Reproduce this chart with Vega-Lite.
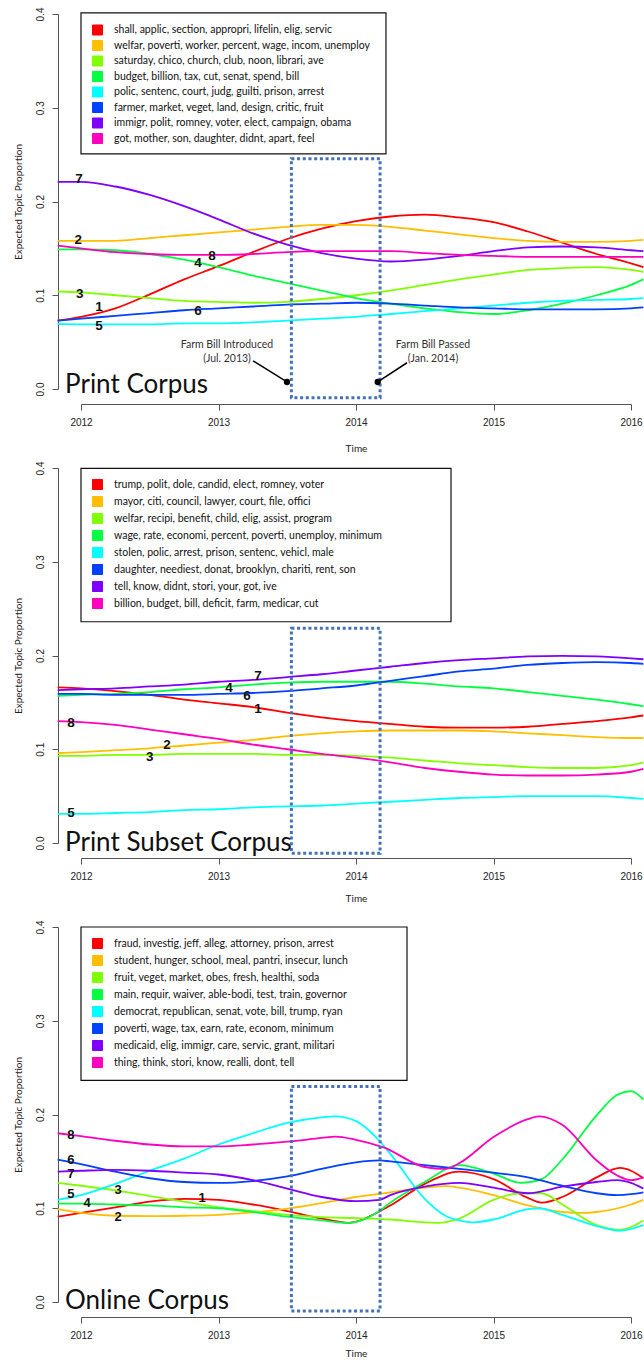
{
  "$schema": "https://vega.github.io/schema/vega-lite/v6.json",
  "background": "white",
  "padding": {"left": 13, "top": 7, "right": 0, "bottom": 0},
  "datasets": {
    "l1": [
      {"topic":1,"year":2011.83,"prop":0.073},{"topic":1,"year":2012,"prop":0.077},{"topic":1,"year":2012.25,"prop":0.086},{"topic":1,"year":2012.5,"prop":0.101},{"topic":1,"year":2012.75,"prop":0.117},{"topic":1,"year":2013,"prop":0.131},{"topic":1,"year":2013.25,"prop":0.146},{"topic":1,"year":2013.5,"prop":0.160},{"topic":1,"year":2013.75,"prop":0.171},{"topic":1,"year":2014,"prop":0.179},{"topic":1,"year":2014.25,"prop":0.184},{"topic":1,"year":2014.5,"prop":0.186},{"topic":1,"year":2014.75,"prop":0.183},{"topic":1,"year":2015,"prop":0.178},{"topic":1,"year":2015.25,"prop":0.168},{"topic":1,"year":2015.5,"prop":0.156},{"topic":1,"year":2015.75,"prop":0.144},{"topic":1,"year":2016,"prop":0.134},{"topic":1,"year":2016.09,"prop":0.130},
      {"topic":2,"year":2011.83,"prop":0.158},{"topic":2,"year":2012,"prop":0.158},{"topic":2,"year":2012.25,"prop":0.158},{"topic":2,"year":2012.5,"prop":0.161},{"topic":2,"year":2012.75,"prop":0.164},{"topic":2,"year":2013,"prop":0.167},{"topic":2,"year":2013.25,"prop":0.170},{"topic":2,"year":2013.5,"prop":0.173},{"topic":2,"year":2013.75,"prop":0.175},{"topic":2,"year":2014,"prop":0.175},{"topic":2,"year":2014.25,"prop":0.173},{"topic":2,"year":2014.5,"prop":0.169},{"topic":2,"year":2014.75,"prop":0.165},{"topic":2,"year":2015,"prop":0.161},{"topic":2,"year":2015.25,"prop":0.158},{"topic":2,"year":2015.5,"prop":0.157},{"topic":2,"year":2015.75,"prop":0.157},{"topic":2,"year":2016,"prop":0.158},{"topic":2,"year":2016.09,"prop":0.159},
      {"topic":3,"year":2011.83,"prop":0.104},{"topic":3,"year":2012,"prop":0.103},{"topic":3,"year":2012.25,"prop":0.100},{"topic":3,"year":2012.5,"prop":0.097},{"topic":3,"year":2012.75,"prop":0.094},{"topic":3,"year":2013,"prop":0.093},{"topic":3,"year":2013.25,"prop":0.092},{"topic":3,"year":2013.5,"prop":0.093},{"topic":3,"year":2013.75,"prop":0.096},{"topic":3,"year":2014,"prop":0.100},{"topic":3,"year":2014.25,"prop":0.105},{"topic":3,"year":2014.5,"prop":0.111},{"topic":3,"year":2014.75,"prop":0.117},{"topic":3,"year":2015,"prop":0.122},{"topic":3,"year":2015.25,"prop":0.127},{"topic":3,"year":2015.5,"prop":0.129},{"topic":3,"year":2015.75,"prop":0.130},{"topic":3,"year":2016,"prop":0.127},{"topic":3,"year":2016.09,"prop":0.125},
      {"topic":4,"year":2011.83,"prop":0.149},{"topic":4,"year":2012,"prop":0.149},{"topic":4,"year":2012.25,"prop":0.148},{"topic":4,"year":2012.5,"prop":0.144},{"topic":4,"year":2012.75,"prop":0.138},{"topic":4,"year":2013,"prop":0.130},{"topic":4,"year":2013.25,"prop":0.121},{"topic":4,"year":2013.5,"prop":0.113},{"topic":4,"year":2013.75,"prop":0.105},{"topic":4,"year":2014,"prop":0.097},{"topic":4,"year":2014.25,"prop":0.091},{"topic":4,"year":2014.5,"prop":0.086},{"topic":4,"year":2014.75,"prop":0.082},{"topic":4,"year":2015,"prop":0.080},{"topic":4,"year":2015.25,"prop":0.084},{"topic":4,"year":2015.5,"prop":0.091},{"topic":4,"year":2015.75,"prop":0.100},{"topic":4,"year":2016,"prop":0.111},{"topic":4,"year":2016.09,"prop":0.117},
      {"topic":5,"year":2011.83,"prop":0.0695},{"topic":5,"year":2012,"prop":0.069},{"topic":5,"year":2012.25,"prop":0.069},{"topic":5,"year":2012.5,"prop":0.069},{"topic":5,"year":2012.75,"prop":0.070},{"topic":5,"year":2013,"prop":0.070},{"topic":5,"year":2013.25,"prop":0.071},{"topic":5,"year":2013.5,"prop":0.073},{"topic":5,"year":2013.75,"prop":0.075},{"topic":5,"year":2014,"prop":0.077},{"topic":5,"year":2014.25,"prop":0.080},{"topic":5,"year":2014.5,"prop":0.083},{"topic":5,"year":2014.75,"prop":0.086},{"topic":5,"year":2015,"prop":0.089},{"topic":5,"year":2015.25,"prop":0.092},{"topic":5,"year":2015.5,"prop":0.094},{"topic":5,"year":2015.75,"prop":0.095},{"topic":5,"year":2016,"prop":0.096},{"topic":5,"year":2016.09,"prop":0.097},
      {"topic":6,"year":2011.83,"prop":0.073},{"topic":6,"year":2012,"prop":0.075},{"topic":6,"year":2012.25,"prop":0.078},{"topic":6,"year":2012.5,"prop":0.081},{"topic":6,"year":2012.75,"prop":0.084},{"topic":6,"year":2013,"prop":0.086},{"topic":6,"year":2013.25,"prop":0.088},{"topic":6,"year":2013.5,"prop":0.090},{"topic":6,"year":2013.75,"prop":0.091},{"topic":6,"year":2014,"prop":0.092},{"topic":6,"year":2014.25,"prop":0.091},{"topic":6,"year":2014.5,"prop":0.089},{"topic":6,"year":2014.75,"prop":0.087},{"topic":6,"year":2015,"prop":0.086},{"topic":6,"year":2015.25,"prop":0.085},{"topic":6,"year":2015.5,"prop":0.085},{"topic":6,"year":2015.75,"prop":0.085},{"topic":6,"year":2016,"prop":0.086},{"topic":6,"year":2016.09,"prop":0.087},
      {"topic":7,"year":2011.83,"prop":0.221},{"topic":7,"year":2012,"prop":0.221},{"topic":7,"year":2012.25,"prop":0.216},{"topic":7,"year":2012.5,"prop":0.207},{"topic":7,"year":2012.75,"prop":0.195},{"topic":7,"year":2013,"prop":0.181},{"topic":7,"year":2013.25,"prop":0.166},{"topic":7,"year":2013.5,"prop":0.154},{"topic":7,"year":2013.75,"prop":0.145},{"topic":7,"year":2014,"prop":0.139},{"topic":7,"year":2014.25,"prop":0.136},{"topic":7,"year":2014.5,"prop":0.138},{"topic":7,"year":2014.75,"prop":0.142},{"topic":7,"year":2015,"prop":0.147},{"topic":7,"year":2015.25,"prop":0.151},{"topic":7,"year":2015.5,"prop":0.152},{"topic":7,"year":2015.75,"prop":0.151},{"topic":7,"year":2016,"prop":0.148},{"topic":7,"year":2016.09,"prop":0.147},
      {"topic":8,"year":2011.83,"prop":0.153},{"topic":8,"year":2012,"prop":0.150},{"topic":8,"year":2012.25,"prop":0.146},{"topic":8,"year":2012.5,"prop":0.144},{"topic":8,"year":2012.75,"prop":0.143},{"topic":8,"year":2013,"prop":0.143},{"topic":8,"year":2013.25,"prop":0.144},{"topic":8,"year":2013.5,"prop":0.146},{"topic":8,"year":2013.75,"prop":0.147},{"topic":8,"year":2014,"prop":0.147},{"topic":8,"year":2014.25,"prop":0.147},{"topic":8,"year":2014.5,"prop":0.145},{"topic":8,"year":2014.75,"prop":0.143},{"topic":8,"year":2015,"prop":0.142},{"topic":8,"year":2015.25,"prop":0.141},{"topic":8,"year":2015.5,"prop":0.141},{"topic":8,"year":2015.75,"prop":0.141},{"topic":8,"year":2016,"prop":0.141},{"topic":8,"year":2016.09,"prop":0.141}
    ],
    "l2": [
      {"topic":1,"year":2011.83,"prop":0.166},{"topic":1,"year":2012,"prop":0.165},{"topic":1,"year":2012.25,"prop":0.162},{"topic":1,"year":2012.5,"prop":0.158},{"topic":1,"year":2012.75,"prop":0.153},{"topic":1,"year":2013,"prop":0.149},{"topic":1,"year":2013.25,"prop":0.145},{"topic":1,"year":2013.5,"prop":0.139},{"topic":1,"year":2013.75,"prop":0.134},{"topic":1,"year":2014,"prop":0.130},{"topic":1,"year":2014.25,"prop":0.127},{"topic":1,"year":2014.5,"prop":0.124},{"topic":1,"year":2014.75,"prop":0.123},{"topic":1,"year":2015,"prop":0.123},{"topic":1,"year":2015.25,"prop":0.124},{"topic":1,"year":2015.5,"prop":0.127},{"topic":1,"year":2015.75,"prop":0.130},{"topic":1,"year":2016,"prop":0.134},{"topic":1,"year":2016.09,"prop":0.136},
      {"topic":2,"year":2011.83,"prop":0.096},{"topic":2,"year":2012,"prop":0.097},{"topic":2,"year":2012.25,"prop":0.099},{"topic":2,"year":2012.5,"prop":0.101},{"topic":2,"year":2012.75,"prop":0.104},{"topic":2,"year":2013,"prop":0.107},{"topic":2,"year":2013.25,"prop":0.110},{"topic":2,"year":2013.5,"prop":0.114},{"topic":2,"year":2013.75,"prop":0.117},{"topic":2,"year":2014,"prop":0.119},{"topic":2,"year":2014.25,"prop":0.120},{"topic":2,"year":2014.5,"prop":0.120},{"topic":2,"year":2014.75,"prop":0.120},{"topic":2,"year":2015,"prop":0.119},{"topic":2,"year":2015.25,"prop":0.117},{"topic":2,"year":2015.5,"prop":0.115},{"topic":2,"year":2015.75,"prop":0.113},{"topic":2,"year":2016,"prop":0.112},{"topic":2,"year":2016.09,"prop":0.112},
      {"topic":3,"year":2011.83,"prop":0.093},{"topic":3,"year":2012,"prop":0.093},{"topic":3,"year":2012.25,"prop":0.094},{"topic":3,"year":2012.5,"prop":0.094},{"topic":3,"year":2012.75,"prop":0.095},{"topic":3,"year":2013,"prop":0.095},{"topic":3,"year":2013.25,"prop":0.095},{"topic":3,"year":2013.5,"prop":0.094},{"topic":3,"year":2013.75,"prop":0.094},{"topic":3,"year":2014,"prop":0.093},{"topic":3,"year":2014.25,"prop":0.091},{"topic":3,"year":2014.5,"prop":0.088},{"topic":3,"year":2014.75,"prop":0.085},{"topic":3,"year":2015,"prop":0.083},{"topic":3,"year":2015.25,"prop":0.081},{"topic":3,"year":2015.5,"prop":0.080},{"topic":3,"year":2015.75,"prop":0.080},{"topic":3,"year":2016,"prop":0.083},{"topic":3,"year":2016.09,"prop":0.086},
      {"topic":4,"year":2011.83,"prop":0.157},{"topic":4,"year":2012,"prop":0.158},{"topic":4,"year":2012.25,"prop":0.159},{"topic":4,"year":2012.5,"prop":0.161},{"topic":4,"year":2012.75,"prop":0.164},{"topic":4,"year":2013,"prop":0.166},{"topic":4,"year":2013.25,"prop":0.169},{"topic":4,"year":2013.5,"prop":0.171},{"topic":4,"year":2013.75,"prop":0.172},{"topic":4,"year":2014,"prop":0.172},{"topic":4,"year":2014.25,"prop":0.172},{"topic":4,"year":2014.5,"prop":0.170},{"topic":4,"year":2014.75,"prop":0.167},{"topic":4,"year":2015,"prop":0.165},{"topic":4,"year":2015.25,"prop":0.161},{"topic":4,"year":2015.5,"prop":0.157},{"topic":4,"year":2015.75,"prop":0.153},{"topic":4,"year":2016,"prop":0.148},{"topic":4,"year":2016.09,"prop":0.146},
      {"topic":5,"year":2011.83,"prop":0.031},{"topic":5,"year":2012,"prop":0.031},{"topic":5,"year":2012.25,"prop":0.032},{"topic":5,"year":2012.5,"prop":0.033},{"topic":5,"year":2012.75,"prop":0.035},{"topic":5,"year":2013,"prop":0.036},{"topic":5,"year":2013.25,"prop":0.038},{"topic":5,"year":2013.5,"prop":0.039},{"topic":5,"year":2013.75,"prop":0.040},{"topic":5,"year":2014,"prop":0.042},{"topic":5,"year":2014.25,"prop":0.044},{"topic":5,"year":2014.5,"prop":0.046},{"topic":5,"year":2014.75,"prop":0.048},{"topic":5,"year":2015,"prop":0.049},{"topic":5,"year":2015.25,"prop":0.050},{"topic":5,"year":2015.5,"prop":0.050},{"topic":5,"year":2015.75,"prop":0.050},{"topic":5,"year":2016,"prop":0.048},{"topic":5,"year":2016.09,"prop":0.047},
      {"topic":6,"year":2011.83,"prop":0.159},{"topic":6,"year":2012,"prop":0.159},{"topic":6,"year":2012.25,"prop":0.158},{"topic":6,"year":2012.5,"prop":0.158},{"topic":6,"year":2012.75,"prop":0.158},{"topic":6,"year":2013,"prop":0.159},{"topic":6,"year":2013.25,"prop":0.160},{"topic":6,"year":2013.5,"prop":0.162},{"topic":6,"year":2013.75,"prop":0.165},{"topic":6,"year":2014,"prop":0.168},{"topic":6,"year":2014.25,"prop":0.173},{"topic":6,"year":2014.5,"prop":0.178},{"topic":6,"year":2014.75,"prop":0.183},{"topic":6,"year":2015,"prop":0.186},{"topic":6,"year":2015.25,"prop":0.190},{"topic":6,"year":2015.5,"prop":0.192},{"topic":6,"year":2015.75,"prop":0.193},{"topic":6,"year":2016,"prop":0.192},{"topic":6,"year":2016.09,"prop":0.191},
      {"topic":7,"year":2011.83,"prop":0.163},{"topic":7,"year":2012,"prop":0.164},{"topic":7,"year":2012.25,"prop":0.165},{"topic":7,"year":2012.5,"prop":0.167},{"topic":7,"year":2012.75,"prop":0.169},{"topic":7,"year":2013,"prop":0.172},{"topic":7,"year":2013.25,"prop":0.174},{"topic":7,"year":2013.5,"prop":0.177},{"topic":7,"year":2013.75,"prop":0.180},{"topic":7,"year":2014,"prop":0.184},{"topic":7,"year":2014.25,"prop":0.188},{"topic":7,"year":2014.5,"prop":0.192},{"topic":7,"year":2014.75,"prop":0.195},{"topic":7,"year":2015,"prop":0.197},{"topic":7,"year":2015.25,"prop":0.199},{"topic":7,"year":2015.5,"prop":0.1995},{"topic":7,"year":2015.75,"prop":0.199},{"topic":7,"year":2016,"prop":0.197},{"topic":7,"year":2016.09,"prop":0.196},
      {"topic":8,"year":2011.83,"prop":0.130},{"topic":8,"year":2012,"prop":0.129},{"topic":8,"year":2012.25,"prop":0.126},{"topic":8,"year":2012.5,"prop":0.121},{"topic":8,"year":2012.75,"prop":0.116},{"topic":8,"year":2013,"prop":0.111},{"topic":8,"year":2013.25,"prop":0.105},{"topic":8,"year":2013.5,"prop":0.100},{"topic":8,"year":2013.75,"prop":0.095},{"topic":8,"year":2014,"prop":0.091},{"topic":8,"year":2014.25,"prop":0.086},{"topic":8,"year":2014.5,"prop":0.080},{"topic":8,"year":2014.75,"prop":0.076},{"topic":8,"year":2015,"prop":0.073},{"topic":8,"year":2015.25,"prop":0.072},{"topic":8,"year":2015.5,"prop":0.072},{"topic":8,"year":2015.75,"prop":0.073},{"topic":8,"year":2016,"prop":0.076},{"topic":8,"year":2016.09,"prop":0.079}
    ],
    "l3": [
      {"topic":1,"year":2011.83,"prop":0.091},{"topic":1,"year":2012,"prop":0.095},{"topic":1,"year":2012.25,"prop":0.101},{"topic":1,"year":2012.5,"prop":0.107},{"topic":1,"year":2012.75,"prop":0.110},{"topic":1,"year":2013,"prop":0.109},{"topic":1,"year":2013.25,"prop":0.104},{"topic":1,"year":2013.5,"prop":0.097},{"topic":1,"year":2013.75,"prop":0.089},{"topic":1,"year":2013.95,"prop":0.0845},{"topic":1,"year":2014.17,"prop":0.0965},{"topic":1,"year":2014.25,"prop":0.103},{"topic":1,"year":2014.5,"prop":0.126},{"topic":1,"year":2014.75,"prop":0.139},{"topic":1,"year":2015,"prop":0.131},{"topic":1,"year":2015.25,"prop":0.111},{"topic":1,"year":2015.35,"prop":0.106},{"topic":1,"year":2015.5,"prop":0.112},{"topic":1,"year":2015.75,"prop":0.133},{"topic":1,"year":2015.92,"prop":0.143},{"topic":1,"year":2016,"prop":0.140},{"topic":1,"year":2016.09,"prop":0.132},
      {"topic":2,"year":2011.83,"prop":0.099},{"topic":2,"year":2012,"prop":0.095},{"topic":2,"year":2012.25,"prop":0.092},{"topic":2,"year":2012.5,"prop":0.0915},{"topic":2,"year":2012.75,"prop":0.092},{"topic":2,"year":2013,"prop":0.093},{"topic":2,"year":2013.25,"prop":0.0955},{"topic":2,"year":2013.5,"prop":0.0995},{"topic":2,"year":2013.75,"prop":0.1055},{"topic":2,"year":2014,"prop":0.112},{"topic":2,"year":2014.25,"prop":0.117},{"topic":2,"year":2014.5,"prop":0.122},{"topic":2,"year":2014.65,"prop":0.1235},{"topic":2,"year":2014.75,"prop":0.122},{"topic":2,"year":2015,"prop":0.114},{"topic":2,"year":2015.25,"prop":0.103},{"topic":2,"year":2015.5,"prop":0.096},{"topic":2,"year":2015.65,"prop":0.095},{"topic":2,"year":2015.75,"prop":0.096},{"topic":2,"year":2016,"prop":0.104},{"topic":2,"year":2016.09,"prop":0.109},
      {"topic":3,"year":2011.83,"prop":0.127},{"topic":3,"year":2012,"prop":0.124},{"topic":3,"year":2012.25,"prop":0.119},{"topic":3,"year":2012.5,"prop":0.113},{"topic":3,"year":2012.75,"prop":0.107},{"topic":3,"year":2013,"prop":0.101},{"topic":3,"year":2013.25,"prop":0.097},{"topic":3,"year":2013.5,"prop":0.093},{"topic":3,"year":2013.75,"prop":0.0905},{"topic":3,"year":2014,"prop":0.0895},{"topic":3,"year":2014.25,"prop":0.088},{"topic":3,"year":2014.5,"prop":0.085},{"topic":3,"year":2014.6,"prop":0.0845},{"topic":3,"year":2014.75,"prop":0.089},{"topic":3,"year":2015,"prop":0.109},{"topic":3,"year":2015.2,"prop":0.116},{"topic":3,"year":2015.35,"prop":0.116},{"topic":3,"year":2015.5,"prop":0.104},{"topic":3,"year":2015.75,"prop":0.082},{"topic":3,"year":2015.92,"prop":0.077},{"topic":3,"year":2016,"prop":0.080},{"topic":3,"year":2016.09,"prop":0.087},
      {"topic":4,"year":2011.83,"prop":0.105},{"topic":4,"year":2012,"prop":0.105},{"topic":4,"year":2012.25,"prop":0.104},{"topic":4,"year":2012.5,"prop":0.103},{"topic":4,"year":2012.75,"prop":0.101},{"topic":4,"year":2013,"prop":0.100},{"topic":4,"year":2013.25,"prop":0.096},{"topic":4,"year":2013.5,"prop":0.091},{"topic":4,"year":2013.75,"prop":0.087},{"topic":4,"year":2013.95,"prop":0.0845},{"topic":4,"year":2014.17,"prop":0.097},{"topic":4,"year":2014.25,"prop":0.106},{"topic":4,"year":2014.5,"prop":0.128},{"topic":4,"year":2014.75,"prop":0.146},{"topic":4,"year":2015,"prop":0.137},{"topic":4,"year":2015.2,"prop":0.127},{"topic":4,"year":2015.35,"prop":0.131},{"topic":4,"year":2015.5,"prop":0.152},{"topic":4,"year":2015.75,"prop":0.199},{"topic":4,"year":2015.9,"prop":0.221},{"topic":4,"year":2016,"prop":0.225},{"topic":4,"year":2016.09,"prop":0.216},
      {"topic":5,"year":2011.83,"prop":0.109},{"topic":5,"year":2012,"prop":0.114},{"topic":5,"year":2012.25,"prop":0.126},{"topic":5,"year":2012.5,"prop":0.140},{"topic":5,"year":2012.75,"prop":0.153},{"topic":5,"year":2013,"prop":0.168},{"topic":5,"year":2013.25,"prop":0.180},{"topic":5,"year":2013.5,"prop":0.191},{"topic":5,"year":2013.75,"prop":0.197},{"topic":5,"year":2013.85,"prop":0.198},{"topic":5,"year":2014,"prop":0.193},{"topic":5,"year":2014.17,"prop":0.172},{"topic":5,"year":2014.25,"prop":0.158},{"topic":5,"year":2014.5,"prop":0.110},{"topic":5,"year":2014.65,"prop":0.092},{"topic":5,"year":2014.75,"prop":0.087},{"topic":5,"year":2014.85,"prop":0.085},{"topic":5,"year":2015,"prop":0.088},{"topic":5,"year":2015.25,"prop":0.099},{"topic":5,"year":2015.33,"prop":0.100},{"topic":5,"year":2015.5,"prop":0.093},{"topic":5,"year":2015.75,"prop":0.081},{"topic":5,"year":2015.92,"prop":0.076},{"topic":5,"year":2016,"prop":0.078},{"topic":5,"year":2016.09,"prop":0.082},
      {"topic":6,"year":2011.83,"prop":0.152},{"topic":6,"year":2012,"prop":0.147},{"topic":6,"year":2012.25,"prop":0.139},{"topic":6,"year":2012.5,"prop":0.132},{"topic":6,"year":2012.75,"prop":0.128},{"topic":6,"year":2013,"prop":0.127},{"topic":6,"year":2013.25,"prop":0.129},{"topic":6,"year":2013.5,"prop":0.134},{"topic":6,"year":2013.75,"prop":0.142},{"topic":6,"year":2014,"prop":0.149},{"topic":6,"year":2014.17,"prop":0.151},{"topic":6,"year":2014.25,"prop":0.150},{"topic":6,"year":2014.5,"prop":0.146},{"topic":6,"year":2014.75,"prop":0.142},{"topic":6,"year":2015,"prop":0.138},{"topic":6,"year":2015.25,"prop":0.133},{"topic":6,"year":2015.5,"prop":0.124},{"topic":6,"year":2015.75,"prop":0.116},{"topic":6,"year":2015.9,"prop":0.114},{"topic":6,"year":2016,"prop":0.115},{"topic":6,"year":2016.09,"prop":0.117},
      {"topic":7,"year":2011.83,"prop":0.139},{"topic":7,"year":2012,"prop":0.140},{"topic":7,"year":2012.25,"prop":0.141},{"topic":7,"year":2012.5,"prop":0.140},{"topic":7,"year":2012.75,"prop":0.138},{"topic":7,"year":2013,"prop":0.136},{"topic":7,"year":2013.25,"prop":0.130},{"topic":7,"year":2013.5,"prop":0.121},{"topic":7,"year":2013.75,"prop":0.112},{"topic":7,"year":2014,"prop":0.1075},{"topic":7,"year":2014.17,"prop":0.109},{"topic":7,"year":2014.25,"prop":0.114},{"topic":7,"year":2014.5,"prop":0.123},{"topic":7,"year":2014.75,"prop":0.127},{"topic":7,"year":2015,"prop":0.122},{"topic":7,"year":2015.25,"prop":0.116},{"topic":7,"year":2015.5,"prop":0.123},{"topic":7,"year":2015.75,"prop":0.128},{"topic":7,"year":2015.9,"prop":0.130},{"topic":7,"year":2016,"prop":0.127},{"topic":7,"year":2016.09,"prop":0.121},
      {"topic":8,"year":2011.83,"prop":0.180},{"topic":8,"year":2012,"prop":0.177},{"topic":8,"year":2012.25,"prop":0.172},{"topic":8,"year":2012.5,"prop":0.168},{"topic":8,"year":2012.75,"prop":0.166},{"topic":8,"year":2013,"prop":0.166},{"topic":8,"year":2013.25,"prop":0.168},{"topic":8,"year":2013.5,"prop":0.171},{"topic":8,"year":2013.75,"prop":0.175},{"topic":8,"year":2013.85,"prop":0.1765},{"topic":8,"year":2014,"prop":0.173},{"topic":8,"year":2014.2,"prop":0.165},{"topic":8,"year":2014.5,"prop":0.144},{"topic":8,"year":2014.65,"prop":0.142},{"topic":8,"year":2014.75,"prop":0.148},{"topic":8,"year":2015,"prop":0.176},{"topic":8,"year":2015.25,"prop":0.195},{"topic":8,"year":2015.33,"prop":0.198},{"topic":8,"year":2015.5,"prop":0.189},{"topic":8,"year":2015.75,"prop":0.151},{"topic":8,"year":2015.9,"prop":0.135},{"topic":8,"year":2016,"prop":0.130},{"topic":8,"year":2016.09,"prop":0.133}
    ],
    "n1": [{"topic":7,"year":2011.985,"prop":0.2235},{"topic":2,"year":2011.98,"prop":0.159},{"topic":8,"year":2012.953,"prop":0.142},{"topic":4,"year":2012.851,"prop":0.134},{"topic":3,"year":2011.99,"prop":0.1016},{"topic":1,"year":2012.131,"prop":0.087},{"topic":6,"year":2012.851,"prop":0.0827},{"topic":5,"year":2012.131,"prop":0.0677}],
    "n2": [{"topic":8,"year":2011.927,"prop":0.128},{"topic":2,"year":2012.625,"prop":0.1045},{"topic":3,"year":2012.5,"prop":0.092},{"topic":5,"year":2011.927,"prop":0.032},{"topic":4,"year":2013.076,"prop":0.1657},{"topic":6,"year":2013.207,"prop":0.157},{"topic":1,"year":2013.287,"prop":0.143},{"topic":7,"year":2013.287,"prop":0.178}],
    "n3": [{"topic":8,"year":2011.927,"prop":0.1777},{"topic":6,"year":2011.927,"prop":0.1515},{"topic":7,"year":2011.927,"prop":0.1368},{"topic":5,"year":2011.927,"prop":0.115},{"topic":4,"year":2012.044,"prop":0.1056},{"topic":3,"year":2012.27,"prop":0.119},{"topic":1,"year":2012.88,"prop":0.1106},{"topic":2,"year":2012.27,"prop":0.0907}]
  },
  "vconcat": [
    {
      "name": "p1",
      "width": 550,
      "height": 375,
      "layer": [
        {
          "data": {"values": [{"year": 2012, "year2": 2014.218, "prop": 0.4012, "prop2": 0.2507}]},
          "mark": {"type": "rect", "fill": "#ffffff", "stroke": "#111", "strokeWidth": 1.2, "clip": false},
          "encoding": {"x": {"field": "year", "type": "quantitative"}, "x2": {"field": "year2"}, "y": {"field": "prop", "type": "quantitative"}, "y2": {"field": "prop2"}}
        },
        {
          "data": {"name": "l1"},
          "mark": {"type": "line", "interpolate": "monotone", "strokeWidth": 1.8, "clip": false},
          "encoding": {
            "x": {"field": "year", "type": "quantitative", "scale": {"domain": [2012, 2016], "nice": false, "zero": false},
                  "axis": {"title": "Time", "values": [2012, 2013, 2014, 2015, 2016], "format": "d", "offset": 15, "tickSize": 6, "labelPadding": 7, "titlePadding": 16, "labelFlush": false, "labelOverlap": false}},
            "y": {"field": "prop", "type": "quantitative", "scale": {"domain": [0, 0.4], "nice": false, "zero": false},
                  "axis": {"title": "Expected Topic Proportion", "values": [0, 0.1, 0.2, 0.3, 0.4], "format": ".1f", "offset": 23, "tickSize": 6, "labelAngle": 270, "labelAlign": "center", "labelBaseline": "bottom", "labelPadding": 7, "titlePadding": 12}},
            "color": {"field": "topic", "type": "nominal",
                      "scale": {"domain": [1, 2, 3, 4, 5, 6, 7, 8], "range": ["#FF0000", "#FFBF00", "#80FF00", "#00FF40", "#00FFFF", "#0040FF", "#8000FF", "#FF00BF"]},
                      "legend": {"orient": "none", "legendX": 0, "legendY": -0.5, "title": null, "symbolType": "square", "symbolSize": 100, "padding": 11, "rowPadding": 0.5, "labelOffset": 11, "labelLimit": 600, "labelFont": "Lato", "labelFontSize": 10.5, "labelColor": "#111", "strokeColor": null, "fillColor": null,
                                 "labelExpr": "['shall, applic, section, appropri, lifelin, elig, servic','welfar, poverti, worker, percent, wage, incom, unemploy','saturday, chico, church, club, noon, librari, ave','budget, billion, tax, cut, senat, spend, bill','polic, sentenc, court, judg, guilti, prison, arrest','farmer, market, veget, land, design, critic, fruit','immigr, polit, romney, voter, elect, campaign, obama','got, mother, son, daughter, didnt, apart, feel'][datum.value - 1]",
                                 "encode": {"symbols": {"update": {"fill": {"scale": "p1_color", "field": "value"}, "stroke": {"value": "#000"}, "strokeWidth": {"value": 1}, "opacity": {"value": 1}}}}}}
          }
        },
        {
          "data": {"values": [{"year": 2013.53, "year2": 2014.175, "prop": -0.0093, "prop2": 0.2457}]},
          "mark": {"type": "rect", "fillOpacity": 0, "stroke": "#4472B4", "strokeWidth": 3, "strokeDash": [3, 2.7], "clip": false},
          "encoding": {"x": {"field": "year", "type": "quantitative"}, "x2": {"field": "year2"}, "y": {"field": "prop", "type": "quantitative"}, "y2": {"field": "prop2"}}
        },
        {
          "data": {"values": [{"year": 2013.251, "year2": 2013.498, "prop": 0.030, "prop2": 0.0075}, {"year": 2014.371, "year2": 2014.158, "prop": 0.028, "prop2": 0.0075}]},
          "mark": {"type": "rule", "color": "#000", "strokeWidth": 1.5},
          "encoding": {"x": {"field": "year", "type": "quantitative"}, "x2": {"field": "year2"}, "y": {"field": "prop", "type": "quantitative"}, "y2": {"field": "prop2"}}
        },
        {
          "data": {"values": [{"year": 2013.498, "prop": 0.0075}, {"year": 2014.158, "prop": 0.0075}]},
          "mark": {"type": "point", "filled": true, "color": "#000", "size": 40, "opacity": 1},
          "encoding": {"x": {"field": "year", "type": "quantitative"}, "y": {"field": "prop", "type": "quantitative"}}
        },
        {
          "data": {"values": [{"year": 2013.062, "prop": 0.047, "note": "Farm Bill Introduced\n(Jul. 2013)"}, {"year": 2014.56, "prop": 0.047, "note": "Farm Bill Passed\n(Jan. 2014)"}]},
          "mark": {"type": "text", "font": "Lato", "fontSize": 10.5, "color": "#333", "align": "center", "baseline": "middle", "lineBreak": "\n", "lineHeight": 14},
          "encoding": {"x": {"field": "year", "type": "quantitative"}, "y": {"field": "prop", "type": "quantitative"}, "text": {"field": "note"}}
        },
        {
          "data": {"name": "n1"},
          "mark": {"type": "text", "font": "Liberation Sans", "fontSize": 13.5, "fontWeight": "bold", "color": "#111", "align": "center", "baseline": "middle"},
          "encoding": {"x": {"field": "year", "type": "quantitative"}, "y": {"field": "prop", "type": "quantitative"}, "text": {"field": "topic"}}
        },
        {
          "data": {"values": [{"year": 2011.884, "prop": -0.004, "name": "Print Corpus"}]},
          "mark": {"type": "text", "font": "Lato", "fontSize": 26, "color": "#111", "align": "left", "baseline": "alphabetic"},
          "encoding": {"x": {"field": "year", "type": "quantitative"}, "y": {"field": "prop", "type": "quantitative"}, "text": {"field": "name"}}
        }
      ]
    },
    {
      "spacing": 84,
      "bounds": "flush",
      "resolve": {"scale": {"color": "independent"}, "legend": {"color": "independent"}},
      "vconcat": [
        {
          "name": "p2",
          "width": 550,
          "height": 375,
          "layer": [
            {
              "data": {"values": [{"year": 2012, "year2": 2014.691, "prop": 0.3995, "prop2": 0.236}]},
              "mark": {"type": "rect", "fill": "#ffffff", "stroke": "#111", "strokeWidth": 1.2, "clip": false},
              "encoding": {"x": {"field": "year", "type": "quantitative"}, "x2": {"field": "year2"}, "y": {"field": "prop", "type": "quantitative"}, "y2": {"field": "prop2"}}
            },
            {
              "data": {"name": "l2"},
              "mark": {"type": "line", "interpolate": "monotone", "strokeWidth": 1.8, "clip": false},
              "encoding": {
                "x": {"field": "year", "type": "quantitative", "scale": {"domain": [2012, 2016], "nice": false, "zero": false},
                      "axis": {"title": "Time", "values": [2012, 2013, 2014, 2015, 2016], "format": "d", "offset": 15, "tickSize": 6, "labelPadding": 7, "titlePadding": 12, "labelFlush": false, "labelOverlap": false}},
                "y": {"field": "prop", "type": "quantitative", "scale": {"domain": [0, 0.4], "nice": false, "zero": false},
                      "axis": {"title": "Expected Topic Proportion", "values": [0, 0.1, 0.2, 0.3, 0.4], "format": ".1f", "offset": 23, "tickSize": 6, "labelAngle": 270, "labelAlign": "center", "labelBaseline": "bottom", "labelPadding": 7, "titlePadding": 12}},
                "color": {"field": "topic", "type": "nominal",
                          "scale": {"domain": [1, 2, 3, 4, 5, 6, 7, 8], "range": ["#FF0000", "#FFBF00", "#80FF00", "#00FF40", "#00FFFF", "#0040FF", "#8000FF", "#FF00BF"]},
                          "legend": {"orient": "none", "legendX": 0, "legendY": 0, "title": null, "symbolType": "square", "symbolSize": 100, "padding": 11, "rowPadding": 2, "labelOffset": 11, "labelLimit": 600, "labelFont": "Lato", "labelFontSize": 10.5, "labelColor": "#111", "strokeColor": null, "fillColor": null,
                                     "labelExpr": "['trump, polit, dole, candid, elect, romney, voter','mayor, citi, council, lawyer, court, file, offici','welfar, recipi, benefit, child, elig, assist, program','wage, rate, economi, percent, poverti, unemploy, minimum','stolen, polic, arrest, prison, sentenc, vehicl, male','daughter, neediest, donat, brooklyn, chariti, rent, son','tell, know, didnt, stori, your, got, ive','billion, budget, bill, deficit, farm, medicar, cut'][datum.value - 1]",
                                     "encode": {"symbols": {"update": {"fill": {"scale": "p2_color", "field": "value"}, "stroke": {"value": "#000"}, "strokeWidth": {"value": 1}, "opacity": {"value": 1}}}}}}
              }
            },
            {
              "data": {"values": [{"year": 2013.53, "year2": 2014.175, "prop": -0.011, "prop2": 0.229}]},
              "mark": {"type": "rect", "fillOpacity": 0, "stroke": "#4472B4", "strokeWidth": 3, "strokeDash": [3, 2.7], "clip": false},
              "encoding": {"x": {"field": "year", "type": "quantitative"}, "x2": {"field": "year2"}, "y": {"field": "prop", "type": "quantitative"}, "y2": {"field": "prop2"}}
            },
            {
              "data": {"name": "n2"},
              "mark": {"type": "text", "font": "Liberation Sans", "fontSize": 13.5, "fontWeight": "bold", "color": "#111", "align": "center", "baseline": "middle"},
              "encoding": {"x": {"field": "year", "type": "quantitative"}, "y": {"field": "prop", "type": "quantitative"}, "text": {"field": "topic"}}
            },
            {
              "data": {"values": [{"year": 2011.884, "prop": -0.0082, "name": "Print Subset Corpus"}]},
              "mark": {"type": "text", "font": "Lato", "fontSize": 26, "color": "#111", "align": "left", "baseline": "alphabetic"},
              "encoding": {"x": {"field": "year", "type": "quantitative"}, "y": {"field": "prop", "type": "quantitative"}, "text": {"field": "name"}}
            }
          ]
        },
        {
          "name": "p3",
          "width": 550,
          "height": 375,
          "layer": [
            {
              "data": {"values": [{"year": 2012, "year2": 2014.371, "prop": 0.4, "prop2": 0.2365}]},
              "mark": {"type": "rect", "fill": "#ffffff", "stroke": "#111", "strokeWidth": 1.2, "clip": false},
              "encoding": {"x": {"field": "year", "type": "quantitative"}, "x2": {"field": "year2"}, "y": {"field": "prop", "type": "quantitative"}, "y2": {"field": "prop2"}}
            },
            {
              "data": {"name": "l3"},
              "mark": {"type": "line", "interpolate": "monotone", "strokeWidth": 1.8, "clip": false},
              "encoding": {
                "x": {"field": "year", "type": "quantitative", "scale": {"domain": [2012, 2016], "nice": false, "zero": false},
                      "axis": {"title": "Time", "values": [2012, 2013, 2014, 2015, 2016], "format": "d", "offset": 15, "tickSize": 6, "labelPadding": 7, "titlePadding": 8, "labelFlush": false, "labelOverlap": false}},
                "y": {"field": "prop", "type": "quantitative", "scale": {"domain": [0, 0.4], "nice": false, "zero": false},
                      "axis": {"title": "Expected Topic Proportion", "values": [0, 0.1, 0.2, 0.3, 0.4], "format": ".1f", "offset": 23, "tickSize": 6, "labelAngle": 270, "labelAlign": "center", "labelBaseline": "bottom", "labelPadding": 7, "titlePadding": 12}},
                "color": {"field": "topic", "type": "nominal",
                          "scale": {"domain": [1, 2, 3, 4, 5, 6, 7, 8], "range": ["#FF0000", "#FFBF00", "#80FF00", "#00FF40", "#00FFFF", "#0040FF", "#8000FF", "#FF00BF"]},
                          "legend": {"orient": "none", "legendX": 0, "legendY": 0, "title": null, "symbolType": "square", "symbolSize": 100, "padding": 11, "rowPadding": 2, "labelOffset": 11, "labelLimit": 600, "labelFont": "Lato", "labelFontSize": 10.5, "labelColor": "#111", "strokeColor": null, "fillColor": null,
                                     "labelExpr": "['fraud, investig, jeff, alleg, attorney, prison, arrest','student, hunger, school, meal, pantri, insecur, lunch','fruit, veget, market, obes, fresh, healthi, soda','main, requir, waiver, able-bodi, test, train, governor','democrat, republican, senat, vote, bill, trump, ryan','poverti, wage, tax, earn, rate, econom, minimum','medicaid, elig, immigr, care, servic, grant, militari','thing, think, stori, know, realli, dont, tell'][datum.value - 1]",
                                     "encode": {"symbols": {"update": {"fill": {"scale": "p3_color", "field": "value"}, "stroke": {"value": "#000"}, "strokeWidth": {"value": 1}, "opacity": {"value": 1}}}}}}
              }
            },
            {
              "data": {"values": [{"year": 2013.53, "year2": 2014.175, "prop": -0.0096, "prop2": 0.230}]},
              "mark": {"type": "rect", "fillOpacity": 0, "stroke": "#4472B4", "strokeWidth": 3, "strokeDash": [3, 2.7], "clip": false},
              "encoding": {"x": {"field": "year", "type": "quantitative"}, "x2": {"field": "year2"}, "y": {"field": "prop", "type": "quantitative"}, "y2": {"field": "prop2"}}
            },
            {
              "data": {"name": "n3"},
              "mark": {"type": "text", "font": "Liberation Sans", "fontSize": 13, "fontWeight": "bold", "color": "#111", "align": "center", "baseline": "middle"},
              "encoding": {"x": {"field": "year", "type": "quantitative"}, "y": {"field": "prop", "type": "quantitative"}, "text": {"field": "topic"}}
            },
            {
              "data": {"values": [{"year": 2011.884, "prop": -0.0074, "name": "Online Corpus"}]},
              "mark": {"type": "text", "font": "Lato", "fontSize": 26, "color": "#111", "align": "left", "baseline": "alphabetic"},
              "encoding": {"x": {"field": "year", "type": "quantitative"}, "y": {"field": "prop", "type": "quantitative"}, "text": {"field": "name"}}
            }
          ]
        }
      ]
    }
  ],
  "spacing": 79,
  "bounds": "flush",
  "resolve": {"scale": {"color": "independent"}, "legend": {"color": "independent"}},
  "config": {
    "view": {"stroke": null},
    "axis": {"grid": false, "domainColor": "#555", "tickColor": "#555", "domainWidth": 1, "tickWidth": 1, "labelColor": "#222", "labelFont": "Liberation Sans", "labelFontSize": 10, "titleFont": "Lato", "titleFontSize": 10, "titleFontWeight": "normal", "titleColor": "#222"}
  }
}
